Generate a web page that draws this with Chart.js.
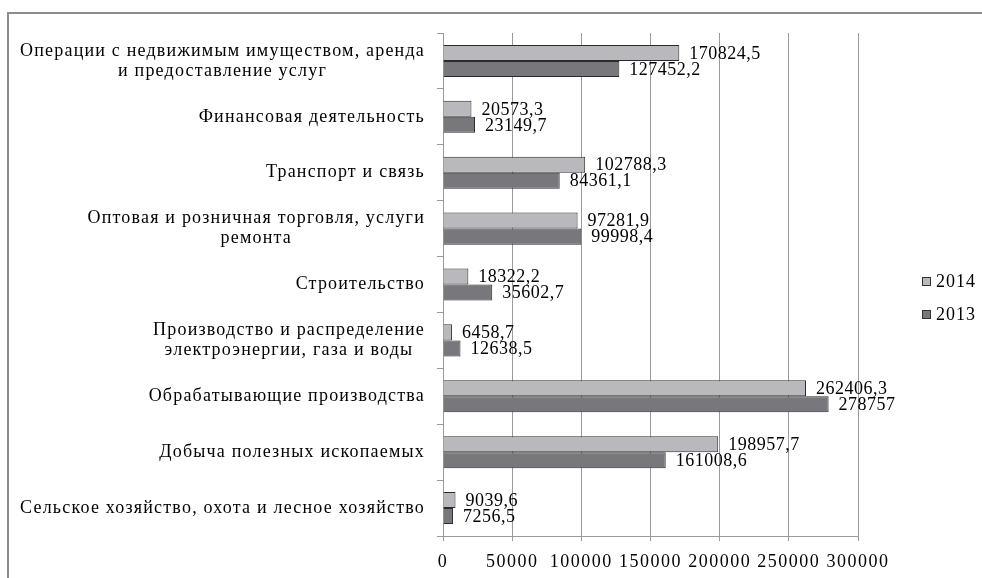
<!DOCTYPE html>
<html>
<head>
<meta charset="utf-8">
<script src="https://cdn.jsdelivr.net/npm/chart.js@4.4.1/dist/chart.umd.min.js"></script>
<style>
  html, body { margin: 0; padding: 0; background: #fff; overflow: hidden; }
  #wrap { position: relative; width: 982px; height: 578px; }
  #frame { position: absolute; left: 7px; top: 12px; width: 990px; height: 590px;
           border-left: 2px solid #8c8c8c; border-top: 2px solid #8c8c8c; box-sizing: border-box; }
  canvas { position: absolute; left: 0; top: 0; }
</style>
</head>
<body>
<div id="wrap">
  <div id="frame"></div>
  <canvas id="c" width="982" height="578"></canvas>
</div>
<script>
const categories = [
  ["Операции с недвижимым имуществом, аренда", "и предоставление услуг"],
  ["Финансовая деятельность"],
  ["Транспорт и связь"],
  ["Оптовая и розничная торговля, услуги", "ремонта"],
  ["Строительство"],
  ["Производство и распределение", "электроэнергии, газа и воды"],
  ["Обрабатывающие производства"],
  ["Добыча полезных ископаемых"],
  ["Сельское хозяйство, охота и лесное хозяйство"]
];
const seriesNames = ["2014", "2013"];
const values2014 = [170824.5, 20573.3, 102788.3, 97281.9, 18322.2, 6458.7, 262406.3, 198957.7, 9039.6];
const values2013 = [127452.2, 23149.7, 84361.1, 99998.4, 35602.7, 12638.5, 278757, 161008.6, 7256.5];
const xTicks = [0, 50000, 100000, 150000, 200000, 250000, 300000];

const FONT = "'Liberation Serif', 'Times New Roman', serif";
const colors = ["#b9b9bd", "#78787c"];

function fmt(v) { return String(v).replace('.', ','); }

const spacingPlugin = {
  id: 'spacing',
  beforeLayout(chart) { chart.ctx.letterSpacing = '1.5px'; },
  beforeDraw(chart) { chart.ctx.letterSpacing = '1.5px'; }
};

const dataLabels = {
  id: 'dataLabels',
  afterDatasetsDraw(chart) {
    const ctx = chart.ctx;
    ctx.save();
    ctx.letterSpacing = '0.5px';
    ctx.font = "18px " + FONT;
    ctx.fillStyle = "#000";
    ctx.textAlign = "left";
    ctx.textBaseline = "middle";
    chart.data.datasets.forEach((ds, di) => {
      const meta = chart.getDatasetMeta(di);
      meta.data.forEach((el, i) => {
        ctx.fillText(fmt(ds.data[i]), el.x + 10, el.y + 1);
      });
    });
    ctx.restore();
  }
};

const yLabels = {
  id: 'yLabels',
  afterDraw(chart) {
    const ctx = chart.ctx;
    const ys = chart.scales.y;
    ctx.save();
    ctx.letterSpacing = '1.2px';
    ctx.font = "18px " + FONT;
    ctx.fillStyle = "#000";
    ctx.textAlign = "center";
    ctx.textBaseline = "middle";
    const lh = 20;
    const right = 425;
    categories.forEach((lines, i) => {
      const y = ys.getPixelForValue(i);
      const w = Math.max(...lines.map(l => ctx.measureText(l).width));
      const cx = right - w / 2;
      const y0 = y - (lines.length - 1) * lh / 2;
      lines.forEach((l, k) => ctx.fillText(l, cx, y0 + k * lh));
    });
    ctx.restore();
  }
};

const legendPlugin = {
  id: 'customLegend',
  afterDraw(chart) {
    const ctx = chart.ctx;
    ctx.save();
    ctx.letterSpacing = '1px';
    ctx.font = "18px " + FONT;
    ctx.textAlign = "left";
    ctx.textBaseline = "middle";
    const x = 922, y0 = 281, step = 33;
    chart.data.datasets.forEach((ds, i) => {
      const y = y0 + i * step;
      ctx.fillStyle = ds.backgroundColor;
      ctx.fillRect(x, y - 4, 8, 8);
      ctx.strokeStyle = "#333";
      ctx.lineWidth = 1;
      ctx.strokeRect(x + 0.5, y - 3.5, 8, 8);
      ctx.fillStyle = "#000";
      ctx.fillText(ds.label, x + 14, y + 1);
    });
    ctx.restore();
  }
};

new Chart(document.getElementById('c'), {
  type: 'bar',
  data: {
    labels: categories,
    datasets: [
      { label: seriesNames[0], data: values2014, backgroundColor: colors[0], borderColor: "#2b2b2b", borderWidth: 1 },
      { label: seriesNames[1], data: values2013, backgroundColor: colors[1], borderColor: "#2b2b2b", borderWidth: 1 }
    ]
  },
  options: {
    indexAxis: 'y',
    responsive: false,
    animation: false,
    devicePixelRatio: 1,
    layout: { padding: { left: 0, top: 33, right: 124, bottom: 0 } },
    datasets: { bar: { categoryPercentage: 0.574, barPercentage: 1 } },
    plugins: { legend: { display: false }, tooltip: { enabled: false } },
    scales: {
      x: {
        min: 0, max: 300000,
        afterBuildTicks(s) { s.ticks = xTicks.map(v => ({ value: v })); },
        afterFit(s) { s.height = 42; },
        grid: { color: "#9a9a9a", lineWidth: 1, tickLength: 5, drawTicks: true },
        border: { display: true, color: "#9a9a9a" },
        ticks: {
          padding: 10,
          color: "#000",
          font: { family: FONT, size: 18 },
          callback: (v) => String(v),
          maxRotation: 0, autoSkip: false
        }
      },
      y: {
        offset: true,
        afterFit(s) { s.width = 443; },
        grid: { display: true, drawOnChartArea: false, offset: true, tickLength: 6, color: "#9a9a9a" },
        border: { display: true, color: "#9a9a9a" },
        ticks: { display: false }
      }
    }
  },
  plugins: [spacingPlugin, dataLabels, yLabels, legendPlugin]
});
</script>
</body>
</html>
